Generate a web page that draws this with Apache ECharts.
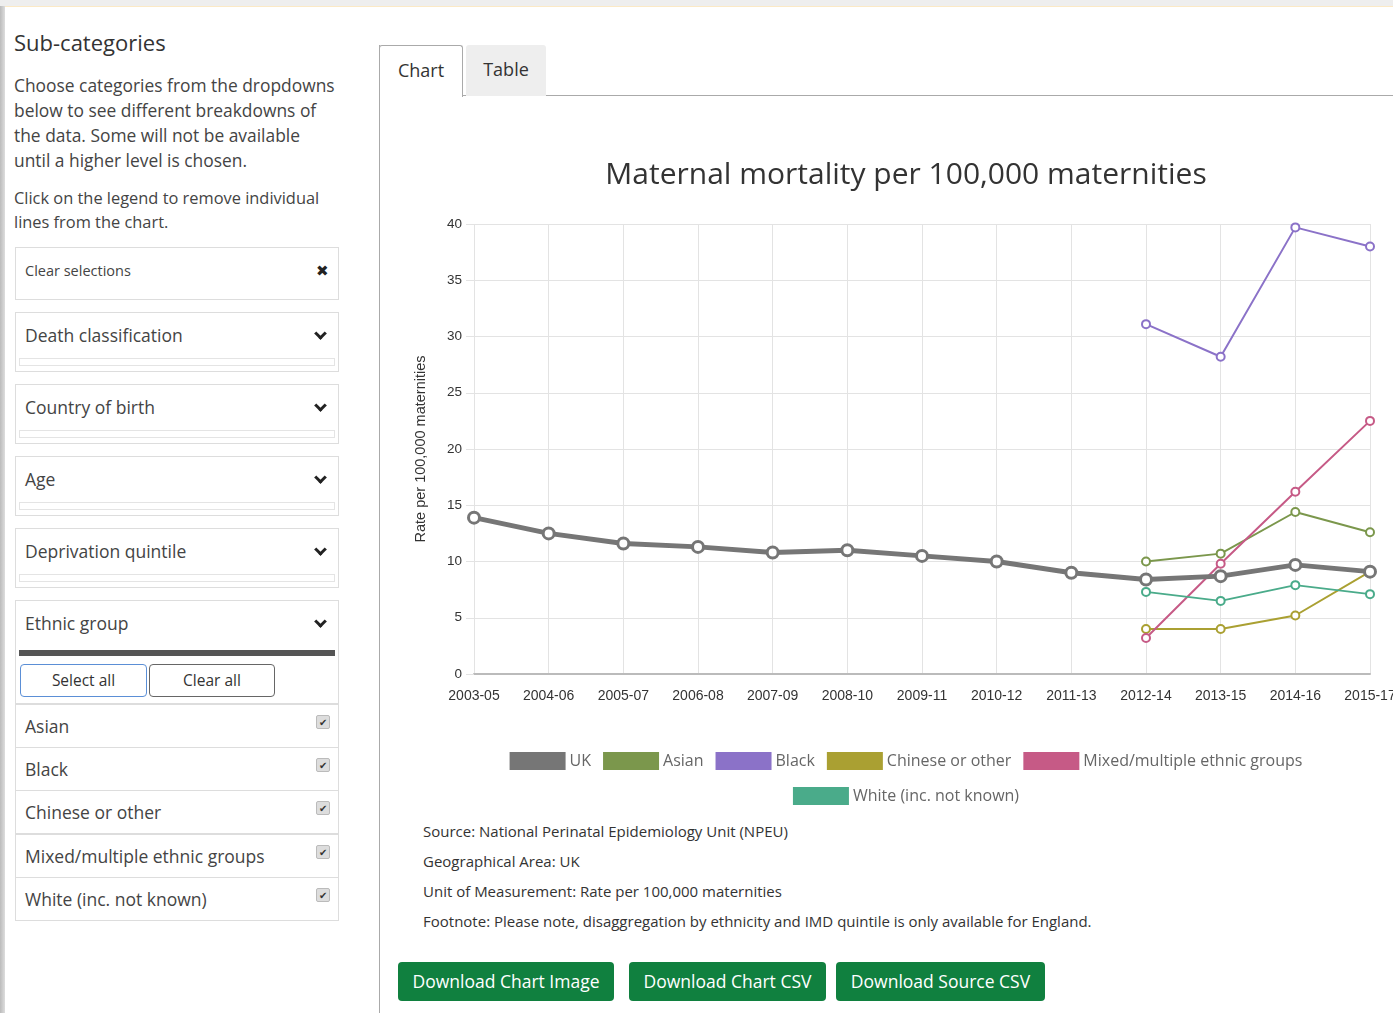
<!DOCTYPE html>
<html>
<head>
<meta charset="utf-8">
<script src="https://cdn.jsdelivr.net/npm/echarts@6/dist/echarts.min.js"></script>
<style>
  html, body { margin: 0; padding: 0; width: 1393px; height: 1013px; overflow: hidden; background: #fff; font-family: "Open Sans", sans-serif; color: #333; }
  .topband { position: absolute; left: 0; top: 0; width: 1393px; height: 6px; background: #eee; border-bottom: 1px solid #fbe9c6; }
  .leftstrip { position: absolute; left: 0; top: 6px; width: 5px; height: 1007px; background: linear-gradient(to right, #bbb, #ddd); }
  .abs { position: absolute; }
  h2 { position: absolute; left: 14px; top: 27px; margin: 0; font-size: 22px; font-weight: normal; color: #333; }
  .p1 { left: 14px; top: 73px; width: 323px; font-size: 17.4px; line-height: 25px; color: #444; }
  .p2 { left: 14px; top: 186px; width: 328px; font-size: 16.4px; line-height: 24px; color: #444; }
  .box { position: absolute; left: 15px; width: 324px; border: 1px solid #ddd; background: #fff; box-sizing: border-box; }
  .box .lbl { position: absolute; left: 9px; font-size: 17.5px; color: #444; }
  .box .chev { position: absolute; right: 13px; width: 6px; height: 6px; border-right: 3px solid #222; border-bottom: 3px solid #222; transform: rotate(45deg); }
  .box .x { position: absolute; right: 9px; font-size: 15px; color: #222; }
  .box .inner { position: absolute; left: 3px; right: 3px; bottom: 5px; height: 6px; border: 1px solid #e4e4e4; }
  .item { position: absolute; left: 15px; width: 324px; height: 44px; border: 1px solid #ddd; box-sizing: border-box; }
  .item span { position: absolute; left: 9px; top: 9px; font-size: 17.5px; color: #444; }
  .item i { position: absolute; right: 8px; top: 10px; width: 12px; height: 12px; border-radius: 2px; background: #ddd; border: 1px solid #bbb; font-style: normal; font-size: 10px; line-height: 12px; text-align: center; color: #333; }
  .btn2 { position: absolute; top: 664px; height: 33px; border: 1px solid #666; border-radius: 4px; box-sizing: border-box; font-size: 15.5px; text-align: center; line-height: 31px; color: #333; background: #fff; }
  .tabline { position: absolute; left: 379px; top: 45px; width: 1px; height: 968px; background: #aaa; }
  .tab { position: absolute; top: 45px; height: 51px; box-sizing: border-box; font-size: 18px; text-align: center; line-height: 49px; }
  .foot { position: absolute; left: 423px; font-size: 15px; color: #333; }
  .gbtn { position: absolute; top: 962px; height: 39px; background: #10803f; border-radius: 4px; color: #fff; font-size: 17.5px; text-align: center; line-height: 38px; }
  #chart { position: absolute; left: 380px; top: 96px; width: 1052px; height: 720px; }
</style>
</head>
<body>
<div class="topband"></div>
<div class="leftstrip"></div>

<h2>Sub-categories</h2>
<div class="abs p1">Choose categories from the dropdowns below to see different breakdowns of the data. Some will not be available until a higher level is chosen.</div>
<div class="abs p2">Click on the legend to remove individual lines from the chart.</div>

<div class="box" style="top:247px;height:53px;"><span class="lbl" style="top:13px;font-size:14.5px;">Clear selections</span><span class="x" style="top:12px;">&#x2716;</span></div>
<div class="box" style="top:312px;height:60px;"><span class="lbl" style="top:10px;">Death classification</span><span class="chev" style="top:16px;"></span><div class="inner"></div></div>
<div class="box" style="top:384px;height:60px;"><span class="lbl" style="top:10px;">Country of birth</span><span class="chev" style="top:16px;"></span><div class="inner"></div></div>
<div class="box" style="top:456px;height:60px;"><span class="lbl" style="top:10px;">Age</span><span class="chev" style="top:16px;"></span><div class="inner"></div></div>
<div class="box" style="top:528px;height:60px;"><span class="lbl" style="top:10px;">Deprivation quintile</span><span class="chev" style="top:16px;"></span><div class="inner"></div></div>
<div class="box" style="top:600px;height:104px;"><span class="lbl" style="top:10px;">Ethnic group</span><span class="chev" style="top:16px;"></span>
  <div style="position:absolute;left:3px;right:3px;top:49px;height:6px;background:#555;"></div></div>
<div class="btn2" style="left:20px;width:127px;border-color:#5b8fd6;">Select all</div>
<div class="btn2" style="left:149px;width:126px;">Clear all</div>
<div class="item" style="top:704px;"><span>Asian</span><i>&#10004;</i></div>
<div class="item" style="top:747px;"><span>Black</span><i>&#10004;</i></div>
<div class="item" style="top:790px;"><span>Chinese or other</span><i>&#10004;</i></div>
<div class="item" style="top:834px;"><span>Mixed/multiple ethnic groups</span><i>&#10004;</i></div>
<div class="item" style="top:877px;"><span>White (inc. not known)</span><i>&#10004;</i></div>

<div class="tabline"></div>
<div class="abs" style="left:462px;top:95px;width:931px;height:1px;background:#aaa;"></div>
<div class="tab" style="left:379px;width:84px;border:1px solid #aaa;border-bottom:none;border-radius:3px 3px 0 0;background:#fff;height:52px;">Chart</div>
<div class="tab" style="left:466px;width:80px;background:#eee;border-radius:3px 3px 0 0;">Table</div>

<div id="chart"></div>

<div class="foot" style="top:821px;">Source: National Perinatal Epidemiology Unit (NPEU)</div>
<div class="foot" style="top:851px;">Geographical Area: UK</div>
<div class="foot" style="top:881px;">Unit of Measurement: Rate per 100,000 maternities</div>
<div class="foot" style="top:911px;">Footnote: Please note, disaggregation by ethnicity and IMD quintile is only available for England.</div>

<div class="gbtn" style="left:398px;width:216px;">Download Chart Image</div>
<div class="gbtn" style="left:629px;width:197px;">Download Chart CSV</div>
<div class="gbtn" style="left:836px;width:209px;">Download Source CSV</div>

<script>
var periods = ['2003-05','2004-06','2005-07','2006-08','2007-09','2008-10','2009-11','2010-12','2011-13','2012-14','2013-15','2014-16','2015-17'];
var uk       = [13.9, 12.5, 11.6, 11.3, 10.8, 11.0, 10.5, 10.0, 9.0, 8.4, 8.7, 9.7, 9.1];
var asian    = [null, null, null, null, null, null, null, null, null, 10.0, 10.7, 14.4, 12.6];
var black    = [null, null, null, null, null, null, null, null, null, 31.1, 28.2, 39.7, 38.0];
var chinese  = [null, null, null, null, null, null, null, null, null, 4.0, 4.0, 5.2, 9.1];
var mixed    = [null, null, null, null, null, null, null, null, null, 3.2, 9.8, 16.2, 22.5];
var white    = [null, null, null, null, null, null, null, null, null, 7.3, 6.5, 7.9, 7.1];
var yTicks   = [0, 5, 10, 15, 20, 25, 30, 35, 40];

var names  = ['UK', 'Asian', 'Black', 'Chinese or other', 'Mixed/multiple ethnic groups', 'White (inc. not known)'];
var values = [uk, asian, black, chinese, mixed, white];
var colors = ['#767676', '#7b974c', '#8b72c8', '#aaa032', '#c65a86', '#4aab8a'];

var myChart = echarts.init(document.getElementById('chart'));

var series = names.map(function (n, i) {
  var isUK = i === 0;
  return {
    name: n,
    type: 'line',
    data: values[i],
    color: colors[i],
    symbol: 'circle',
    symbolSize: isUK ? 11 : 8,
    z: isUK ? 3 : 2,
    lineStyle: { width: isUK ? 5 : 2, color: colors[i] },
    itemStyle: { color: '#fff', borderColor: colors[i], borderWidth: isUK ? 3 : 2 }
  };
});

function legendItems(list) {
  return list.map(function (n) {
    var i = names.indexOf(n);
    return { name: n, icon: 'rect', itemStyle: { color: colors[i], borderWidth: 0 } };
  });
}
var legendBase = {
  left: 'center',
  itemWidth: 56,
  itemHeight: 18,
  itemGap: 12,
  textStyle: { fontFamily: 'Open Sans', fontSize: 16, color: '#666', padding: [0, 0, 0, -1] }
};

var option = {
  animation: false,
  title: {
    text: 'Maternal mortality per 100,000 maternities',
    left: 'center',
    top: 59,
    textStyle: { fontFamily: 'Open Sans', fontWeight: 'normal', fontSize: 30, color: '#333' }
  },
  legend: [
    Object.assign({ data: legendItems(names.slice(0, 5)), top: 651 }, legendBase),
    Object.assign({ data: legendItems(names.slice(5)), top: 686 }, legendBase)
  ],
  grid: { left: 94, right: 62, top: 128, bottom: 142 },
  xAxis: {
    type: 'category',
    data: periods,
    boundaryGap: false,
    axisLine: { lineStyle: { color: '#bbb', width: 2 } },
    axisTick: { show: false },
    splitLine: { show: true, lineStyle: { color: '#e3e3e3', width: 1 } },
    axisLabel: { fontFamily: 'Liberation Sans', fontSize: 14, color: '#333', margin: 15, interval: 0 }
  },
  yAxis: {
    type: 'value',
    min: yTicks[0],
    max: yTicks[yTicks.length - 1],
    interval: 5,
    name: 'Rate per 100,000 maternities',
    nameLocation: 'middle',
    nameGap: 46,
    nameTextStyle: { fontFamily: 'Liberation Sans', fontSize: 14.5, color: '#333' },
    axisLine: { show: false },
    axisTick: { show: true, length: 8, lineStyle: { color: '#e3e3e3' } },
    splitLine: { lineStyle: { color: '#e3e3e3', width: 1 } },
    axisLabel: { fontFamily: 'Liberation Sans', fontSize: 13.5, color: '#333', margin: 12 }
  },
  series: series
};

myChart.setOption(option);
</script>
</body>
</html>
